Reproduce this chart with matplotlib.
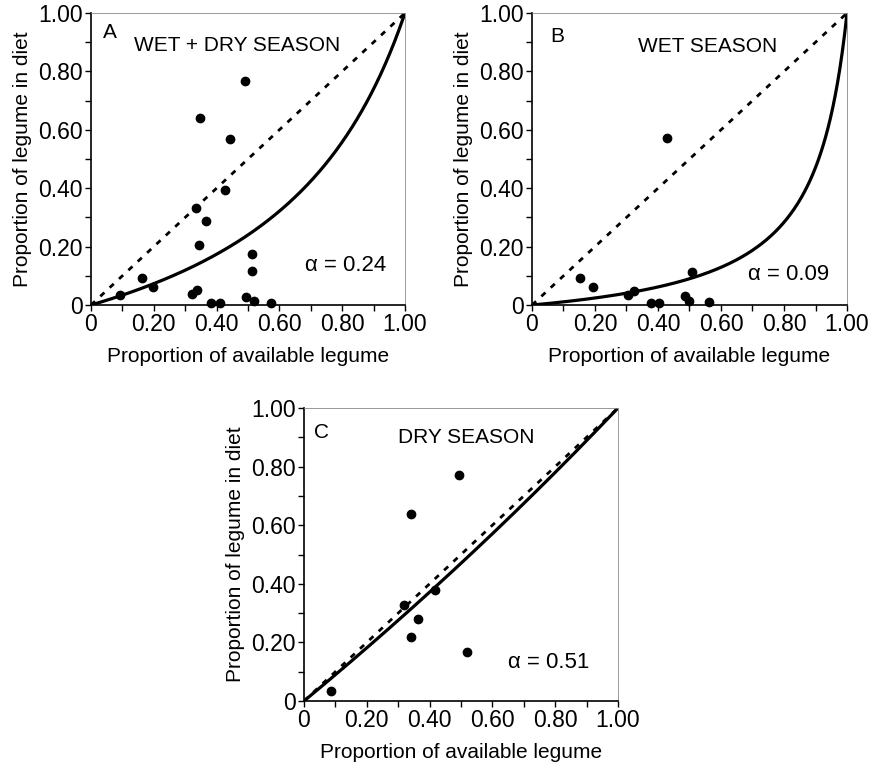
import numpy as np
import matplotlib.pyplot as plt

plt.rcParams['font.family'] = ['Liberation Sans', 'DejaVu Sans']

# Panel A - wet + dry season
a_avail = [0.492, 0.348, 0.442, 0.427, 0.333, 0.367, 0.345, 0.514, 0.514, 0.162,
           0.199, 0.094, 0.322, 0.338, 0.383, 0.410, 0.494, 0.519, 0.572]
a_diet = [0.767, 0.639, 0.570, 0.393, 0.333, 0.287, 0.205, 0.175, 0.118, 0.094,
          0.063, 0.035, 0.038, 0.050, 0.007, 0.008, 0.029, 0.015, 0.007]

# Panel B - wet season
b_avail = [0.430, 0.152, 0.193, 0.509, 0.305, 0.323, 0.378, 0.402, 0.485, 0.499, 0.563]
b_diet = [0.572, 0.094, 0.062, 0.114, 0.034, 0.048, 0.007, 0.006, 0.032, 0.014, 0.011]

# Panel C - dry season
c_avail = [0.495, 0.341, 0.417, 0.320, 0.363, 0.341, 0.520, 0.085]
c_diet = [0.771, 0.639, 0.380, 0.328, 0.281, 0.220, 0.168, 0.033]

letters = ['A', 'B', 'C']
titles = ['WET + DRY SEASON', 'WET SEASON', 'DRY SEASON']
alpha_labels = ['0.24', '0.09', '0.51']
curve_alpha = [0.24, 0.09, 0.47]  # preference value used for the drawn curve
tick_vals = [0, 0.2, 0.4, 0.6, 0.8, 1.0]
tick_labels = ['0', '0.20', '0.40', '0.60', '0.80', '1.00']

fig = plt.figure(figsize=(8.78, 7.67), dpi=100)
axes_pos = [[0.1036, 0.6023, 0.3576, 0.3807],
            [0.6059, 0.6023, 0.3588, 0.3807],
            [0.3462, 0.0860, 0.3576, 0.3820]]
title_pos = [(0.466, 0.89), (0.556, 0.885), (0.516, 0.898)]
letter_pos = [(0.06, 0.935), (0.08, 0.92), (0.057, 0.918)]
alpha_pos = [(0.81, 0.137), (0.816, 0.103), (0.78, 0.13)]

data = [(a_avail, a_diet), (b_avail, b_diet), (c_avail, c_diet)]
xs = np.linspace(0, 1, 400)

for i in range(3):
    ax = fig.add_axes(axes_pos[i])
    ax.plot([0, 1], [0, 1], color='black', lw=2.0, linestyle=(0, (2, 2.6)))
    a = curve_alpha[i]
    ys = a * xs / (a * xs + (1 - a) * (1 - xs))
    ax.plot(xs, ys, color='black', lw=2.3)
    ax.plot(data[i][0], data[i][1], 'o', color='black', ms=6, clip_on=False)

    ax.set_xlim(0, 1)
    ax.set_ylim(0, 1)
    ax.set_xticks(tick_vals)
    ax.set_xticklabels(tick_labels)
    ax.set_yticks(tick_vals)
    ax.set_yticklabels(tick_labels)
    ax.set_xticks(np.arange(0.1, 1.0, 0.2), minor=True)
    ax.set_yticks(np.arange(0.1, 1.0, 0.2), minor=True)
    ax.tick_params(which='both', direction='out', length=4, width=1, labelsize=16.5, pad=2)
    ax.spines['left'].set_linewidth(1.2)
    ax.spines['bottom'].set_linewidth(1.2)
    ax.spines['top'].set_color('#888888')
    ax.spines['right'].set_color('#888888')
    ax.spines['top'].set_linewidth(0.6)
    ax.spines['right'].set_linewidth(0.6)

    ax.set_xlabel('Proportion of available legume', fontsize=15, labelpad=8)
    ax.set_ylabel('Proportion of legume in diet', fontsize=15, labelpad=4)

    ax.text(letter_pos[i][0], letter_pos[i][1], letters[i], transform=ax.transAxes,
            fontsize=15, ha='center', va='center')
    ax.text(title_pos[i][0], title_pos[i][1], titles[i], transform=ax.transAxes,
            fontsize=15, ha='center', va='center')
    ax.text(alpha_pos[i][0], alpha_pos[i][1], '\u03b1 = ' + alpha_labels[i],
            transform=ax.transAxes, fontsize=16, ha='center', va='center')

plt.savefig('out.png', dpi=100)
